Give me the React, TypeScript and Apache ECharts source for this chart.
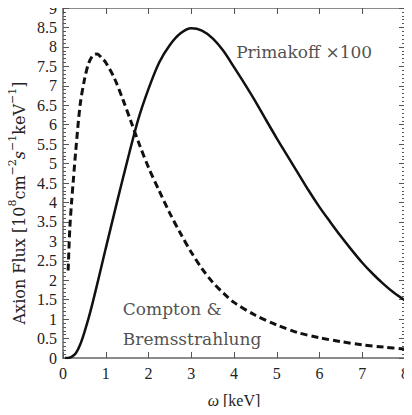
import React, { useEffect, useRef } from "react";
import * as echarts from "echarts";

const primakoffX = [0.05, 0.1, 0.2, 0.3, 0.4, 0.5, 0.6, 0.7, 0.8, 0.9, 1.0, 1.25, 1.5, 1.75, 2.0, 2.25, 2.5, 2.75, 3.0, 3.25, 3.5, 3.75, 4.0, 4.25, 4.5, 4.75, 5.0, 5.25, 5.5, 5.75, 6.0, 6.25, 6.5, 6.75, 7.0, 7.25, 7.5, 7.75, 8.0];
const primakoffY = [0.0, 0.0, 0.03, 0.12, 0.34, 0.66, 1.03, 1.45, 1.9, 2.36, 2.82, 3.95, 5.05, 6.1, 6.92, 7.6, 8.05, 8.35, 8.48, 8.42, 8.22, 7.9, 7.48, 7.05, 6.6, 6.12, 5.65, 5.2, 4.75, 4.3, 3.88, 3.5, 3.13, 2.78, 2.45, 2.16, 1.9, 1.67, 1.48];

const comptonX = [0.12, 0.16, 0.2, 0.24, 0.3, 0.4, 0.5, 0.6, 0.7, 0.8, 0.9, 1.0, 1.2, 1.4, 1.6, 1.8, 2.0, 2.25, 2.5, 2.75, 3.0, 3.25, 3.5, 3.75, 4.0, 4.5, 5.0, 5.5, 6.0, 6.5, 7.0, 7.5, 8.0];
const comptonY = [2.25, 3.35, 4.0, 4.55, 5.35, 6.5, 7.15, 7.58, 7.78, 7.82, 7.72, 7.6, 7.2, 6.65, 6.05, 5.45, 4.9, 4.3, 3.72, 3.2, 2.72, 2.3, 1.95, 1.67, 1.43, 1.1, 0.85, 0.65, 0.52, 0.42, 0.34, 0.28, 0.23];

const xTicks = ["0", "1", "2", "3", "4", "5", "6", "7", "8"];
const yTickStep = 0.5;

const SERIF = "'Liberation Serif', 'DejaVu Serif', serif";
const LABEL_FONT = "'DejaVu Serif', 'Liberation Serif', serif";
const AXIS_COLOR = "#666";
const TEXT_COLOR = "#222";

export default function App() {
  const ref = useRef<HTMLDivElement>(null);

  useEffect(() => {
    if (!ref.current) return;
    const chart = echarts.init(ref.current, undefined, { renderer: "svg" });

    const yAxisCommon = {
      type: "value" as const,
      min: 0,
      max: 9,
      interval: yTickStep,
      axisLine: { show: true, onZero: false, lineStyle: { color: AXIS_COLOR, width: 1.5 } },
      axisTick: { show: true, inside: true, length: 6, lineStyle: { color: "#555", width: 1 } },
      minorTick: { show: true, splitNumber: 5, length: 3, lineStyle: { color: "#555", width: 1 } },
      splitLine: { show: false },
      minorSplitLine: { show: false },
    };

    const xAxisCommon = {
      type: "value" as const,
      min: 0,
      max: 8,
      interval: 1,
      axisLine: { show: true, onZero: false, lineStyle: { color: AXIS_COLOR, width: 1.5 } },
      axisTick: { show: true, inside: true, length: 6, lineStyle: { color: "#555", width: 1 } },
      splitLine: { show: false },
    };

    chart.setOption({
      animation: false,
      backgroundColor: "#fff",
      grid: { left: 63, right: 6, top: 5, bottom: 57, containLabel: false },
      xAxis: [
        {
          ...xAxisCommon,
          position: "bottom",
          axisLabel: {
            show: true,
            margin: 7,
            fontFamily: SERIF,
            fontSize: 16,
            color: TEXT_COLOR,
            formatter: (v: number) => xTicks[Math.round(v)] ?? "",
          },
          name: "{i|ω} [keV]",
          nameLocation: "middle",
          nameGap: 34,
          nameTextStyle: {
            fontFamily: SERIF,
            fontSize: 16,
            color: TEXT_COLOR,
            rich: { i: { fontStyle: "italic", fontFamily: SERIF, fontSize: 16, color: TEXT_COLOR } },
          },
        },
        {
          ...xAxisCommon,
          position: "top",
          axisLabel: { show: false },
        },
      ],
      yAxis: [
        {
          ...yAxisCommon,
          position: "left",
          axisLabel: {
            show: true,
            margin: 6,
            fontFamily: SERIF,
            fontSize: 16,
            color: TEXT_COLOR,
            formatter: (v: number) => String(Math.round(v * 10) / 10),
          },
        },
        {
          ...yAxisCommon,
          position: "right",
          axisLabel: { show: false },
        },
      ],
      graphic: [
        {
          type: "text",
          x: 17,
          y: 203,
          rotation: Math.PI / 2,
          style: {
            text: "{m|Axion Flux [10}{s|8}{m|cm}{s|−2}{it|s}{s|−1}{m|keV}{s|−1}{m|]}",
            fontFamily: LABEL_FONT,
            fontSize: 16,
            fill: TEXT_COLOR,
            align: "center",
            verticalAlign: "middle",
            rich: {
              m: { fontFamily: LABEL_FONT, fontSize: 16, lineHeight: 20, verticalAlign: "bottom", fill: TEXT_COLOR },
              it: { fontFamily: LABEL_FONT, fontSize: 16, fontStyle: "italic", lineHeight: 20, verticalAlign: "bottom", fill: TEXT_COLOR },
              s: { fontFamily: LABEL_FONT, fontSize: 11, lineHeight: 11, verticalAlign: "top", fill: TEXT_COLOR },
            },
          },
        },
      ],
      series: [
        {
          name: "Primakoff ×100",
          type: "line",
          xAxisIndex: 0,
          yAxisIndex: 0,
          data: primakoffX.map((x, i) => [x, primakoffY[i]]),
          smooth: 0.3,
          showSymbol: false,
          lineStyle: { color: "#111", width: 2.5 },
        },
        {
          name: "Compton & Bremsstrahlung",
          type: "line",
          xAxisIndex: 0,
          yAxisIndex: 0,
          data: comptonX.map((x, i) => [x, comptonY[i]]),
          smooth: 0.3,
          showSymbol: false,
          lineStyle: { color: "#111", width: 3, type: [7, 4] },
        },
        {
          type: "scatter",
          xAxisIndex: 0,
          yAxisIndex: 0,
          data: [[5.64, 7.86]],
          symbolSize: 0,
          silent: true,
          label: {
            show: true,
            formatter: "Primakoff ×100",
            position: "inside",
            fontFamily: LABEL_FONT,
            fontSize: 17,
            color: TEXT_COLOR,
          },
        },
        {
          type: "scatter",
          xAxisIndex: 0,
          yAxisIndex: 0,
          data: [[1.4, 0.88]],
          symbolSize: 0,
          silent: true,
          label: {
            show: true,
            formatter: "Compton &\nBremsstrahlung",
            position: "inside",
            align: "left",
            lineHeight: 30,
            fontFamily: LABEL_FONT,
            fontSize: 17,
            color: TEXT_COLOR,
          },
        },
      ],
    });

    return () => chart.dispose();
  }, []);

  return <div ref={ref} style={{ width: 412, height: 415, margin: -8 }} />;
}
